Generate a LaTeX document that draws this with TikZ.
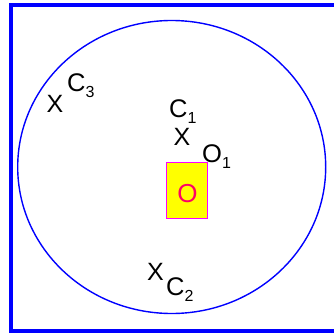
\documentclass[tikz,border=0pt]{standalone}
\usepackage{fontspec}
\setmainfont{Liberation Sans}
\usetikzlibrary{positioning}
\definecolor{frm}{HTML}{0000FF}
\definecolor{pad}{HTML}{FFFF00}
\definecolor{padline}{HTML}{FF00FF}
\definecolor{otxt}{HTML}{FF0066}
\newcommand{\ptsub}[2]{#1\raisebox{-6pt}{\fontsize{16}{16}\selectfont #2}}
\tikzset{
  frame/.style={draw=frm,line width=4pt},
  rim/.style={draw=frm,line width=1.4pt},
  xmark/.style={inner sep=0pt,font=\fontsize{25}{25}\selectfont},
  lbl/.style={inner sep=0pt,anchor=base west,font=\fontsize{25.5}{25}\selectfont},
  padbox/.style={draw=padline,fill=pad,line width=1pt,minimum width=41pt,minimum height=56pt,inner sep=0pt},
  otext/.style={inner sep=0pt,text=otxt,font=\fontsize{26}{26}\selectfont},
}
\begin{document}
\begin{tikzpicture}[x=1pt,y=-1pt]
\useasboundingbox (0,0) rectangle (334,332);
% open frame, no right side
\coordinate (ftr) at (334,5);
\coordinate (ftl) at (11,5);
\coordinate (fbl) at (11,330.5);
\coordinate (fbr) at (334,330.5);
\draw[frame] (ftr) -- (ftl) -- (fbl) -- (fbr);
\draw[rim] (171.7,167) ellipse [x radius=154,y radius=146.5];
% the box and its point
\node[padbox] (box) at (187.2,190.2) {};
\node[otext] (o) at (187.5,194) {O};
% points
\node[xmark] (x1) at (182,137) {X};
\node[xmark] (x2) at (155.5,271.5) {X};
\node[xmark] (x3) at (55,104) {X};
\node[lbl] (c1) at (169,117) {\ptsub{C}{1}};
\node[lbl] (c2) at (166,295) {\ptsub{C}{2}};
\node[lbl] (c3) at (67,91) {\ptsub{C}{3}};
\node[lbl] (o1) at (202,162) {\ptsub{O}{1}};
\end{tikzpicture}
\end{document}
